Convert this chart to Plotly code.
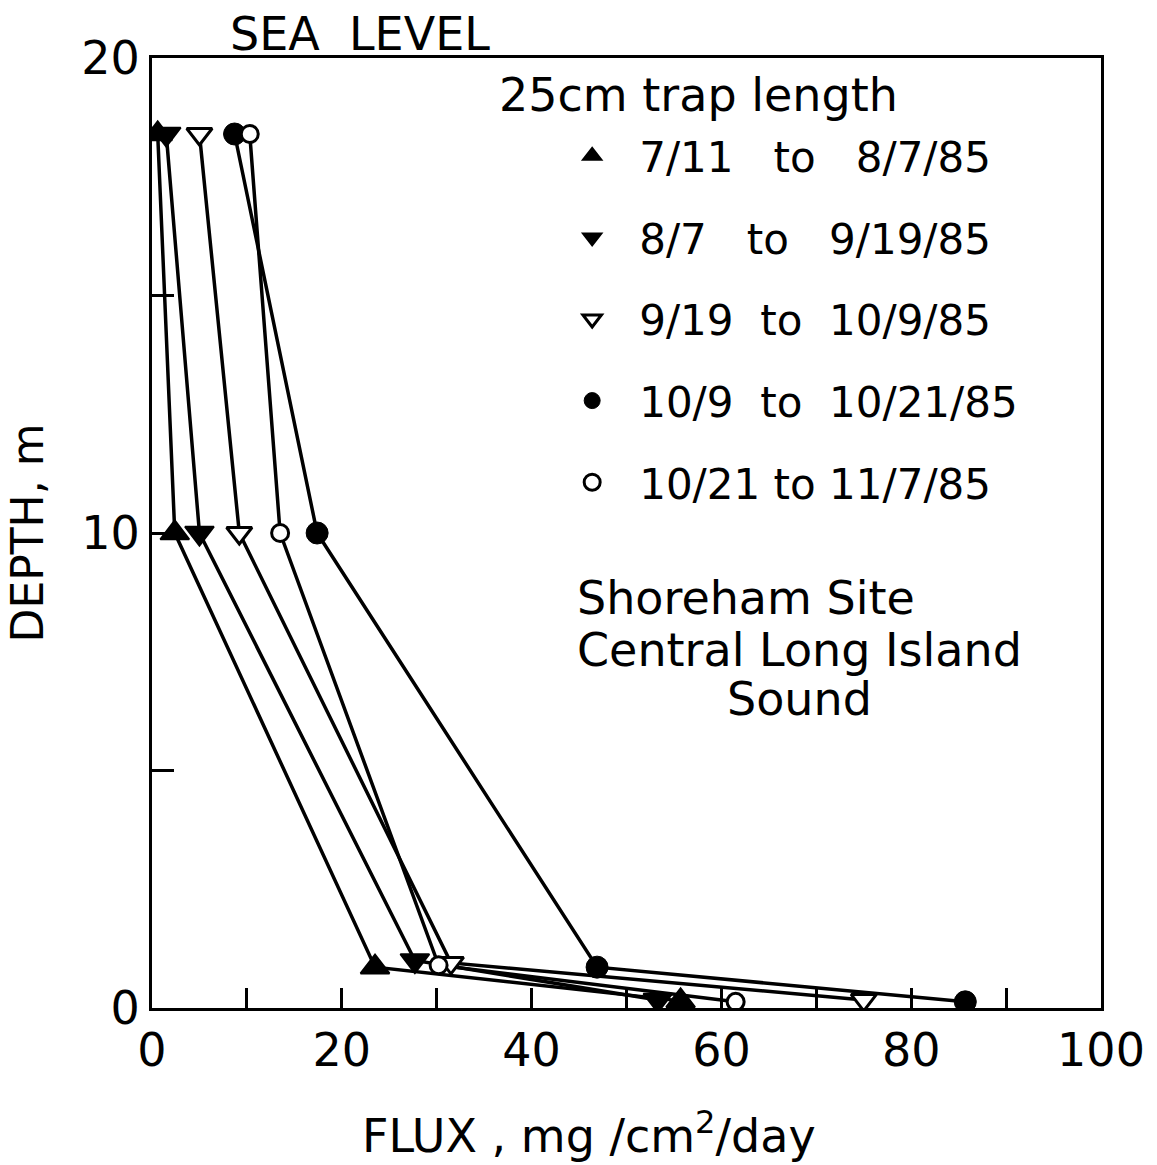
import plotly.graph_objects as go

# ---- data ----
series_names = ["7/11   to   8/7/85", "8/7   to   9/19/85", "9/19  to  10/9/85",
                "10/9  to  10/21/85", "10/21 to 11/7/85"]
flux_a = [0.6, 2.4, 23.5, 55.7]     # 7/11 to 8/7/85
flux_b = [1.5, 5.0, 27.7, 53.3]     # 8/7 to 9/19/85
flux_c = [5.0, 9.2, 31.5, 75.0]     # 9/19 to 10/9/85
flux_d = [8.7, 17.4, 46.9, 85.7]    # 10/9 to 10/21/85
flux_e = [10.3, 13.5, 30.2, 61.5]   # 10/21 to 11/7/85
depth_a = [18.4, 10.0, 0.86, 0.15]
depth_b = [18.4, 10.0, 1.0, 0.17]
depth_c = [18.4, 10.0, 0.95, 0.17]
depth_d = [18.4, 10.0, 0.86, 0.13]
depth_e = [18.4, 10.0, 0.9, 0.13]

x_ticks = [0, 10, 20, 30, 40, 50, 60, 70, 80, 90, 100]
x_ticktext = ["0", "", "20", "", "40", "", "60", "", "80", "", "100"]
y_ticks = [0, 5, 10, 15, 20]
y_ticktext = ["0", "", "10", "", "20"]

FONT = "DejaVu Sans"
BLACK = "black"

styles = [
    dict(symbol="triangle-up", size=25, color=BLACK, line=dict(color=BLACK, width=2)),
    dict(symbol="triangle-down", size=25, color=BLACK, line=dict(color=BLACK, width=2)),
    dict(symbol="triangle-down", size=22, color="white", line=dict(color=BLACK, width=3)),
    dict(symbol="circle", size=22, color=BLACK, line=dict(color=BLACK, width=1)),
    dict(symbol="circle", size=17, color="white", line=dict(color=BLACK, width=3)),
]
fluxes = [flux_a, flux_b, flux_c, flux_d, flux_e]
depths = [depth_a, depth_b, depth_c, depth_d, depth_e]

fig = go.Figure()
# connecting lines first
for i, (name, fx, dp) in enumerate(zip(series_names, fluxes, depths)):
    fig.add_trace(go.Scatter(
        x=fx, y=dp, mode="lines", name=name, showlegend=False,
        line=dict(color=BLACK, width=3.5), hoverinfo="skip",
    ))
# markers on top
for i, (name, fx, dp, st) in enumerate(zip(series_names, fluxes, depths, styles)):
    fig.add_trace(go.Scatter(
        x=fx, y=dp, mode="markers", name=name, legendgroup=f"g{i}",
        marker=st,
    ))

W, H = 1157, 1165
L, R, T, B = 152, 54, 58, 157

def px(xp):
    return (xp - L) / (W - L - R)

def py(yp):
    return (H - B - yp) / (H - T - B)

def note(text, x, y, xanchor="center", size=46):
    return dict(text=text, x=px(x), y=py(y), xref="paper", yref="paper",
                xanchor=xanchor, yanchor="middle", showarrow=False,
                font=dict(family=FONT, size=size, color=BLACK))

annotations = [
    note("SEA  LEVEL", 360, 34),
    note("25cm trap length", 700, 95),
    note("Shoreham Site", 576, 598, xanchor="left"),
    note("Central Long Island", 576, 650, xanchor="left"),
    note("Sound", 801, 699),
    note("FLUX , mg /cm<sup>2</sup>/day", 590, 1133),
]

fig.update_layout(
    width=W, height=H,
    margin=dict(l=L, r=R, t=T, b=B),
    paper_bgcolor="white", plot_bgcolor="white",
    font=dict(family=FONT, color=BLACK),
    showlegend=True,
    legend=dict(x=px(546), y=py(122), xanchor="left", yanchor="top",
                font=dict(family=FONT, size=42, color=BLACK),
                bgcolor="rgba(0,0,0,0)", tracegroupgap=24, itemwidth=84),
    annotations=annotations,
    xaxis=dict(range=[0, 100], tickvals=x_ticks, ticktext=x_ticktext,
               ticks="inside", ticklen=20, tickwidth=3, tickcolor=BLACK,
               showline=True, linewidth=3, linecolor=BLACK, mirror=True,
               showgrid=False, zeroline=False,
               tickfont=dict(family=FONT, size=46, color=BLACK)),
    yaxis=dict(range=[0, 20], tickvals=y_ticks, ticktext=y_ticktext,
               ticks="inside", ticklen=22, tickwidth=3, tickcolor=BLACK,
               showline=True, linewidth=3, linecolor=BLACK, mirror=True,
               showgrid=False, zeroline=False,
               tickfont=dict(family=FONT, size=46, color=BLACK),
               title=dict(text="DEPTH, m",
                          font=dict(family=FONT, size=44, color=BLACK), standoff=24)),
)

fig.write_html("out.html")
